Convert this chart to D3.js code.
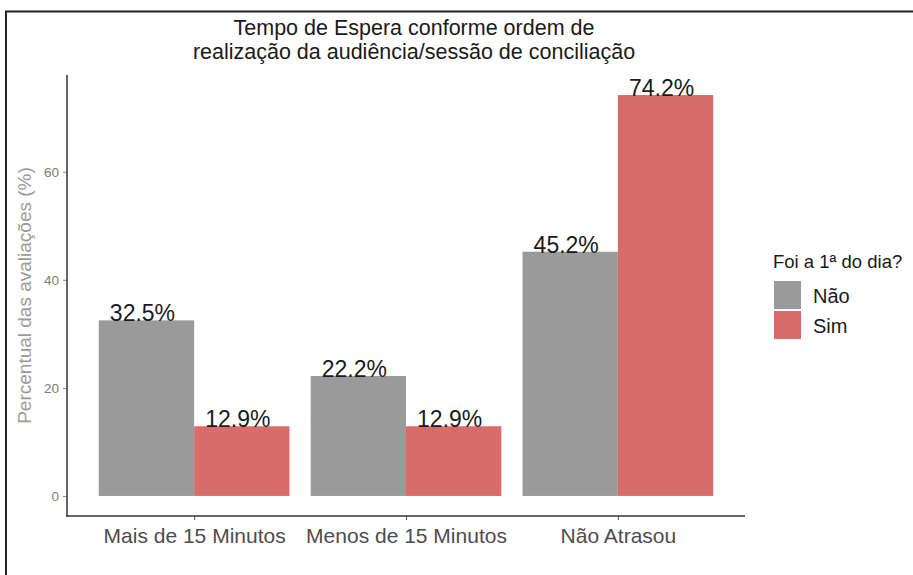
<!DOCTYPE html>
<html>
<head>
<meta charset="utf-8">
<script src="https://cdn.jsdelivr.net/npm/d3@7"></script>
<style>
  body { margin: 0; background: #fff; }
  text { font-family: "Liberation Sans", Arial, sans-serif; }
</style>
</head>
<body>
<div id="chart"></div>
<script>
// --- data ---
const categories = ["Mais de 15 Minutos", "Menos de 15 Minutos", "Não Atrasou"];
const groups = ["Não", "Sim"];
const valuesNao = [32.5, 22.2, 45.2];
const valuesSim = [12.9, 12.9, 74.2];
const yTicks = [0, 20, 40, 60];
const colors = ["#9a9a9a", "#da6b6b"];

const W = 913, H = 575;
const margin = { left: 67, right: 745, top: 75, bottom: 516 };

const rows = [];
categories.forEach((c, i) => {
  rows.push({ cat: c, grp: "Não", value: valuesNao[i] });
  rows.push({ cat: c, grp: "Sim", value: valuesSim[i] });
});

const svg = d3.select("#chart").append("svg")
  .attr("width", W).attr("height", H);

// outer frame (right and bottom edges fall outside the picture)
svg.append("rect")
  .attr("x", 6).attr("y", 11.5)
  .attr("width", 920).attr("height", 600)
  .attr("fill", "none").attr("stroke", "#222").attr("stroke-width", 2);

// --- scales (ggplot style expansion) ---
const yMax = d3.max(rows, d => d.value);
const yPad = yMax * 0.05;
const y = d3.scaleLinear()
  .domain([-yPad, yMax + yPad])
  .range([margin.bottom, margin.top]);

// discrete axis: centers 0.6 units from the edges, dodge width 0.9
const unit = (margin.right - margin.left) / (categories.length - 1 + 1.2);
const x0 = d3.scalePoint()
  .domain(categories)
  .range([margin.left + 0.6 * unit, margin.right - 0.6 * unit]);
const x1 = d3.scaleBand().domain(groups).range([-0.45 * unit, 0.45 * unit]);
const color = d3.scaleOrdinal().domain(groups).range(colors);

// --- bars ---
svg.append("g").attr("class", "bars")
  .selectAll("rect")
  .data(rows)
  .join("rect")
  .attr("x", d => x0(d.cat) + x1(d.grp))
  .attr("width", x1.bandwidth())
  .attr("y", d => y(d.value))
  .attr("height", d => y(0) - y(d.value))
  .attr("fill", d => color(d.grp));

// --- bar labels ---
svg.append("g").attr("class", "bar--annot")
  .selectAll("text")
  .data(rows)
  .join("text")
  .attr("x", d => x0(d.cat) + x1(d.grp) + x1.bandwidth() / 2 - 4)
  .attr("y", d => y(d.value) + 1)
  .attr("text-anchor", "middle")
  .style("font-size", "23px")
  .attr("fill", "#1a1a1a")
  .text(d => d.value.toFixed(1) + "%");

// --- axes ---
const yAxis = d3.axisLeft(y).tickValues(yTicks).tickSize(4).tickPadding(4);
const gy = svg.append("g")
  .attr("transform", `translate(${margin.left},0)`)
  .call(yAxis);
gy.select(".domain").remove();
gy.selectAll(".tick line").attr("stroke", "#888");
gy.selectAll(".tick text").attr("fill", "#7a7a7a").style("font-size", "13.5px");

const xAxis = d3.axisBottom(x0).tickSize(4).tickPadding(8);
const gx = svg.append("g")
  .attr("transform", `translate(0,${margin.bottom})`)
  .call(xAxis);
gx.select(".domain").remove();
gx.selectAll(".tick line").attr("stroke", "#555");
gx.selectAll(".tick text").attr("fill", "#4d4d4d").style("font-size", "21px");

// axis lines
svg.append("line")
  .attr("x1", margin.left).attr("x2", margin.left)
  .attr("y1", margin.top).attr("y2", margin.bottom + 0.75)
  .attr("stroke", "#333").attr("stroke-width", 1.5);
svg.append("line")
  .attr("x1", margin.left - 0.75).attr("x2", margin.right)
  .attr("y1", margin.bottom).attr("y2", margin.bottom)
  .attr("stroke", "#333").attr("stroke-width", 1.5);

// y-axis title
svg.append("text")
  .attr("transform", `translate(31,${(margin.top + margin.bottom) / 2}) rotate(-90)`)
  .attr("text-anchor", "middle")
  .attr("fill", "#9a9a9a")
  .style("font-size", "19px")
  .text("Percentual das avaliações (%)");

// title
const title = ["Tempo de Espera conforme ordem de", "realização da audiência/sessão de conciliação"];
svg.append("g").selectAll("text")
  .data(title)
  .join("text")
  .attr("x", 414)
  .attr("y", (d, i) => 35 + i * 24)
  .attr("text-anchor", "middle")
  .attr("fill", "#1a1a1a")
  .style("font-size", "21.5px")
  .text(d => d);

// legend
const legend = svg.append("g").attr("transform", "translate(773,0)");
legend.append("text")
  .attr("x", 0).attr("y", 268)
  .attr("fill", "#1a1a1a")
  .style("font-size", "18.5px")
  .text("Foi a 1ª do dia?");
const items = legend.selectAll("g.item")
  .data(groups)
  .join("g")
  .attr("class", "item")
  .attr("transform", (d, i) => `translate(1,${281 + i * 30})`);
items.append("rect")
  .attr("width", 27).attr("height", 28)
  .attr("fill", d => color(d));
items.append("text")
  .attr("x", 39).attr("y", 22)
  .attr("fill", "#1a1a1a")
  .style("font-size", "20px")
  .text(d => d);
</script>
</body>
</html>
